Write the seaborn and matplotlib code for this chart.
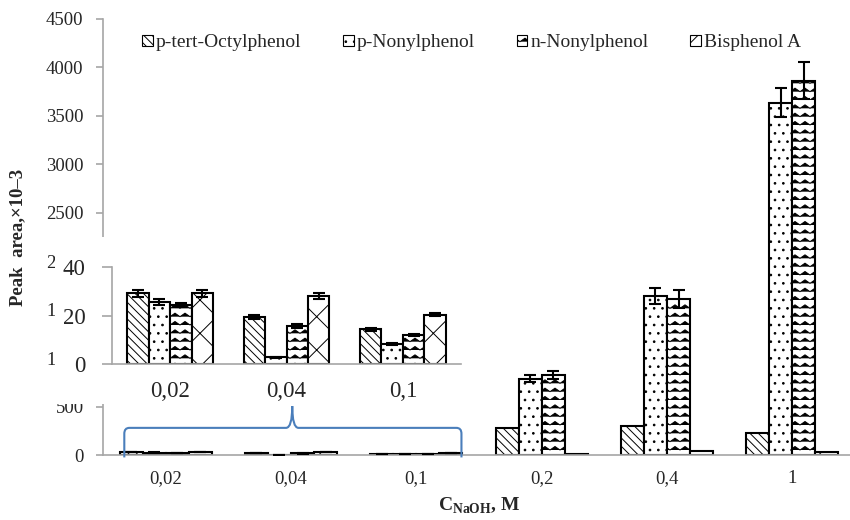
import numpy as np
import pandas as pd
import matplotlib
matplotlib.use('Agg')
import matplotlib.pyplot as plt
import matplotlib.hatch as mhatch
from matplotlib.path import Path
from matplotlib.patches import Rectangle, PathPatch, Patch
import seaborn as sns
import warnings

warnings.filterwarnings('ignore')

# data (peak area x10^-3)
concentrations = ['0,02', '0,04', '0,1', '0,2', '0,4', '1']
compounds = ['p-tert-Octylphenol', 'p-Nonylphenol', 'n-Nonylphenol', 'Bisphenol A']
octylphenol = [29.2, 19.3, 14.3, 277, 302, 230]
octylphenol_err = [1.5, 0.8, 0.6, 0, 0, 0]
p_nonylphenol = [25.7, 2.8, 8.2, 785, 1640, 3636]
p_nonylphenol_err = [1.2, 0.2, 0.4, 36, 83, 150]
n_nonylphenol = [24.3, 15.7, 12.0, 829, 1610, 3862]
n_nonylphenol_err = [1.0, 0.8, 0.5, 40, 93, 190]
bisphenol_a = [29.2, 28.0, 20.3, 12, 45, 28]
bisphenol_a_err = [1.5, 1.2, 0.7, 0, 0, 0]
inset_concentrations = concentrations[:3]

hatches = ['\\\\\\\\', '..', 'ww', 'x']
GRAY = '#a6a6a6'
BLUE = '#4a7ebb'


# zigzag hatch like the Excel "wave" fill
class WaveHatch(mhatch.HatchPatternBase):
    teeth = 10

    def __init__(self, hatch, density):
        self.num_rows = hatch.count('w') * density
        self.num_vertices = self.num_rows * (2 * self.teeth + 1)

    def set_vertices_and_codes(self, vertices, codes):
        n = 2 * self.teeth + 1
        xs = np.linspace(0, 1, n)
        amp = 0.42 / self.num_rows
        for r in range(self.num_rows):
            y0 = r / self.num_rows
            vertices[r * n:(r + 1) * n, 0] = xs
            vertices[r * n:(r + 1) * n, 1] = y0 + np.where(np.arange(n) % 2 == 1, amp, 0)
            codes[r * n] = Path.MOVETO
            codes[r * n + 1:(r + 1) * n] = Path.LINETO


mhatch._hatch_types.append(WaveHatch)

df = pd.DataFrame({
    'conc': np.tile(concentrations, 4),
    'compound': np.repeat(compounds, len(concentrations)),
    'area': np.concatenate([octylphenol, p_nonylphenol, n_nonylphenol, bisphenol_a]),
    'err': np.concatenate([octylphenol_err, p_nonylphenol_err, n_nonylphenol_err, bisphenol_a_err]),
})

sns.set_style('white')
plt.rcParams['font.family'] = ['Liberation Serif', 'DejaVu Serif']
plt.rcParams['mathtext.fontset'] = 'custom'
plt.rcParams['mathtext.rm'] = 'Liberation Serif'
plt.rcParams['mathtext.bf'] = 'Liberation Serif:bold'
plt.rcParams['hatch.linewidth'] = 0.7


def draw_bars(ax, data, order):
    sns.barplot(data=data, x='conc', y='area', hue='compound', order=order,
                hue_order=compounds, palette=['white'] * 4, saturation=1,
                edgecolor='black', linewidth=1.5, width=0.735,
                errorbar=None, legend=False, ax=ax)
    for container, hatch, name in zip(ax.containers, hatches, compounds):
        for bar in container:
            bar.set_hatch(hatch)
        sub = data[data['compound'] == name].set_index('conc').loc[order]
        xs = np.array([b.get_x() + b.get_width() / 2 for b in container])
        mask = sub['err'].values > 0
        if mask.any():
            ax.errorbar(xs[mask], sub['area'].values[mask], yerr=sub['err'].values[mask],
                        fmt='none', ecolor='black', elinewidth=1.5, capsize=4,
                        capthick=1.5, zorder=3)
    for side in ['top', 'right']:
        ax.spines[side].set_visible(False)
    for side in ['left', 'bottom']:
        ax.spines[side].set_color(GRAY)
        ax.spines[side].set_linewidth(1.2)
    ax.set_xlim(-0.5, len(order) - 0.5)
    ax.set_xticks(np.arange(-0.5, len(order)), minor=True)
    ax.tick_params(axis='x', which='major', length=0)
    ax.tick_params(axis='x', which='minor', length=6, color=GRAY, width=1.2)
    ax.tick_params(axis='y', length=5, color=GRAY, width=1.2, left=True)
    ax.set_xlabel('')
    ax.set_ylabel('')


fig = plt.figure(figsize=(8.5, 5.2), dpi=100)
ax = fig.add_axes([103 / 850, 65 / 520, 752 / 850, 436 / 520])
draw_bars(ax, df, concentrations)
ax.set_ylim(0, 4500)
ax.set_yticks(np.arange(0, 4501, 500))
ax.tick_params(axis='y', labelsize=13.5, pad=9)
ax.tick_params(axis='x', labelsize=13.5, pad=11)
ax.set_xlabel(r'$\mathbf{C}_{\mathbf{NaOH}}$, M', fontsize=14, fontweight='bold', labelpad=6)
ax.set_ylabel('Peak  area,×10–3', fontsize=13.5, fontweight='bold', labelpad=14)

# legend
handles = [Patch(facecolor='white', edgecolor='black', hatch=h, linewidth=0.8, label=c)
           for h, c in zip(hatches, compounds)]
ax.legend(handles=handles, loc='center', bbox_to_anchor=(0.49, 0.945), ncol=4,
          frameon=False, fontsize=14, handlelength=0.55, handleheight=0.55,
          handletextpad=0.15, columnspacing=2.15)

# blue brace under the zoomed categories
x0, x1, xc = -0.33, 2.36, 1.01
h, peak, foot = 280, 505, -25
verts = [(x0, foot), (x0, h - 60), (x0, h), (x0 + 0.04, h),
         (xc - 0.05, h), (xc, h), (xc, peak), (xc, h), (xc + 0.05, h),
         (x1 - 0.04, h), (x1, h), (x1, h - 60), (x1, foot)]
codes = [Path.MOVETO, Path.LINETO, Path.CURVE3, Path.CURVE3,
         Path.LINETO, Path.CURVE3, Path.CURVE3, Path.CURVE3, Path.CURVE3,
         Path.LINETO, Path.CURVE3, Path.CURVE3, Path.LINETO]
ax.add_patch(PathPatch(Path(verts, codes), facecolor='none', edgecolor=BLUE,
                       linewidth=1.5, zorder=4, clip_on=False))

# white backing for the inset
fig.add_artist(Rectangle((55 / 850, 116 / 520), (470 - 55) / 850, (283 - 116) / 520,
                         transform=fig.transFigure, facecolor='white',
                         edgecolor='none', zorder=1))

# inset with the low concentrations
axin = fig.add_axes([112 / 850, 156 / 520, 349 / 850, 97 / 520], zorder=2)
axin.patch.set_alpha(0)
draw_bars(axin, df[df['conc'].isin(inset_concentrations)], inset_concentrations)
axin.set_ylim(0, 40)
axin.set_yticks([0, 20, 40])
axin.tick_params(axis='y', labelsize=16.5, pad=12, length=7)
axin.tick_params(axis='x', labelsize=16.5, pad=12)

fig.savefig('out.png', dpi=100)
